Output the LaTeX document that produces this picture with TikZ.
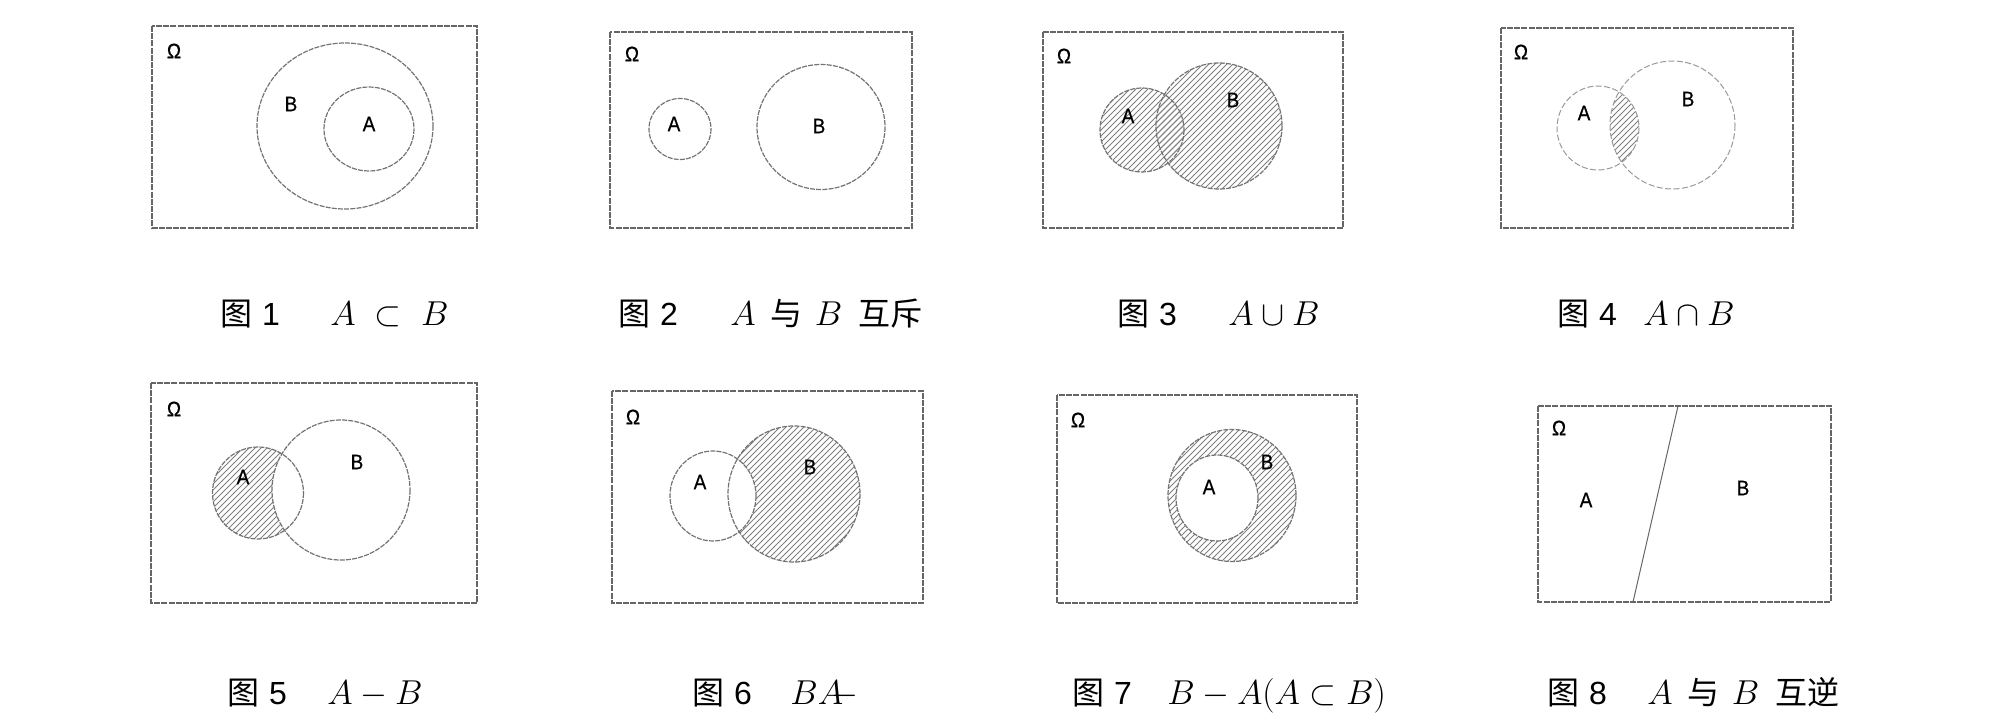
\documentclass[tikz,border=0pt]{standalone}
\usepackage{fontspec}
\setsansfont{Liberation Sans}
\newfontfamily\lblfont[FakeBold=0.6,FakeStretch=0.9]{Liberation Sans}
\newfontfamily\cjk{Noto Sans CJK SC}
\usetikzlibrary{patterns}

\begin{document}
\begin{tikzpicture}[x=0.5pt, y=-0.5pt,
  frame/.style={draw=black!60, line width=0.6pt, dash pattern=on 3pt off 0.6pt},
  setline/.style={draw=black!55, line width=0.6pt, dash pattern=on 2.5pt off 0.6pt},
  faint/.style={draw=black!40, line width=0.5pt, dash pattern=on 3pt off 1.2pt},
  hatch/.style={pattern=north east lines, pattern color=black!50},
  lbl/.style={inner sep=0pt, font=\lblfont\fontsize{10.5}{12}\selectfont},
  fig/.style={inner sep=0pt, anchor=base west, font=\fontsize{16}{18}\selectfont}]
\useasboundingbox (0,0) rectangle (1997,727);

%figure 1
\draw[frame] (152,26) rectangle (477,228);
\draw[setline] (345,126) ellipse (88 and 83);
\draw[setline] (369,129) ellipse (45 and 42);
\node[lbl] (omega1) at (174,51) {Ω};
\node[lbl] (b1) at (291,104) {B};
\node[lbl] (a1) at (369,124) {A};
\node[fig] (fig1) at (220,325) {{\cjk 图} \sffamily 1};
\node[fig] (set1) at (330,325) {$A\;\subset\;B$};

%figure 2
\draw[frame] (610,32) rectangle (912,228);
\draw[setline] (680,129) ellipse (31 and 30.5);
\draw[setline] (821,127) ellipse (64 and 62.5);
\node[lbl] (omega2) at (632,54) {Ω};
\node[lbl] (a2) at (674,124) {A};
\node[lbl] (b2) at (819,126) {B};
\node[fig] (fig2) at (618,325) {{\cjk 图} \sffamily 2};
\node[fig] (set2) at (730,325) {$A$\hspace{0.45em}{\cjk 与}\hspace{0.4em}$B$\hspace{0.5em}{\cjk 互斥}};

%figure 3
\fill[hatch] (1142,130) ellipse (42 and 42);
\fill[hatch] (1219,126) ellipse (63 and 63);
\draw[frame] (1043,32) rectangle (1343,228);
\draw[setline] (1142,130) ellipse (42 and 42);
\draw[setline] (1219,126) ellipse (63 and 63);
\node[lbl] (omega3) at (1064,56) {Ω};
\node[lbl] (a3) at (1128,116) {A};
\node[lbl] (b3) at (1233,100) {B};
\node[fig] (fig3) at (1117,325) {{\cjk 图} \sffamily 3};
\node[fig] (set3) at (1228,325) {$A\cup B$};

%figure 4
\begin{scope}
  \clip (1598,128) ellipse (41 and 42);
  \fill[hatch] (1672.5,125) ellipse (62.5 and 64);
\end{scope}
\draw[frame] (1501,28) rectangle (1793,228);
\draw[faint] (1598,128) ellipse (41 and 42);
\draw[faint] (1672.5,125) ellipse (62.5 and 64);
\node[lbl] (omega4) at (1521,52) {Ω};
\node[lbl] (a4) at (1584,113) {A};
\node[lbl] (b4) at (1688,99) {B};
\node[fig] (fig4) at (1557,325) {{\cjk 图} \sffamily 4};
\node[fig] (set4) at (1643,325) {$A\cap B$};

%figure 5
\fill[hatch] (258,493) ellipse (45.5 and 46);
\begin{scope}
  \clip (258,493) ellipse (45.5 and 46);
  \fill[white] (341,490) ellipse (69 and 70);
\end{scope}
\draw[frame] (151,383) rectangle (477,603);
\draw[setline] (258,493) ellipse (45.5 and 46);
\draw[setline] (341,490) ellipse (69 and 70);
\node[lbl] (omega5) at (174,409) {Ω};
\node[lbl] (a5) at (243,477) {A};
\node[lbl] (b5) at (357,462) {B};
\node[fig] (fig5) at (227,704) {{\cjk 图} \sffamily 5};
\node[fig] (set5) at (327,704) {$A-B$};

%figure 6
\fill[hatch] (794,494) ellipse (66 and 68);
\begin{scope}
  \clip (794,494) ellipse (66 and 68);
  \fill[white] (713,496) ellipse (43 and 45);
\end{scope}
\draw[frame] (612,391) rectangle (923,603);
\draw[setline] (713,496) ellipse (43 and 45);
\draw[setline] (794,494) ellipse (66 and 68);
\node[lbl] (omega6) at (633,417) {Ω};
\node[lbl] (a6) at (700,482) {A};
\node[lbl] (b6) at (810,467) {B};
\node[fig] (fig6) at (692,704) {{\cjk 图} \sffamily 6};
\node[fig] (set6) at (790,704) {$BA\mkern-6mu-$};

%figure 7
\fill[hatch] (1232,495.5) ellipse (64 and 66);
\fill[white] (1217,498) ellipse (41 and 43);
\draw[frame] (1057,395) rectangle (1357,603);
\draw[setline] (1232,495.5) ellipse (64 and 66);
\draw[setline] (1217,498) ellipse (41 and 43);
\node[lbl] (omega7) at (1078,420) {Ω};
\node[lbl] (a7) at (1209,487) {A};
\node[lbl] (b7) at (1267,462) {B};
\node[fig] (fig7) at (1072,704) {{\cjk 图} \sffamily 7};
\node[fig] (set7) at (1167,704) {$B-A(A\subset B)$};

%figure 8
\draw[frame] (1538,406) rectangle (1831,602);
\draw[black!60, line width=0.5pt] (1678,406) -- (1633,602);
\node[lbl] (omega8) at (1559,428) {Ω};
\node[lbl] (a8) at (1586,500) {A};
\node[lbl] (b8) at (1743,488) {B};
\node[fig] (fig8) at (1547,704) {{\cjk 图} \sffamily 8};
\node[fig] (set8) at (1647,704) {$A$\hspace{0.45em}{\cjk 与}\hspace{0.4em}$B$\hspace{0.5em}{\cjk 互逆}};

\end{tikzpicture}
\end{document}
